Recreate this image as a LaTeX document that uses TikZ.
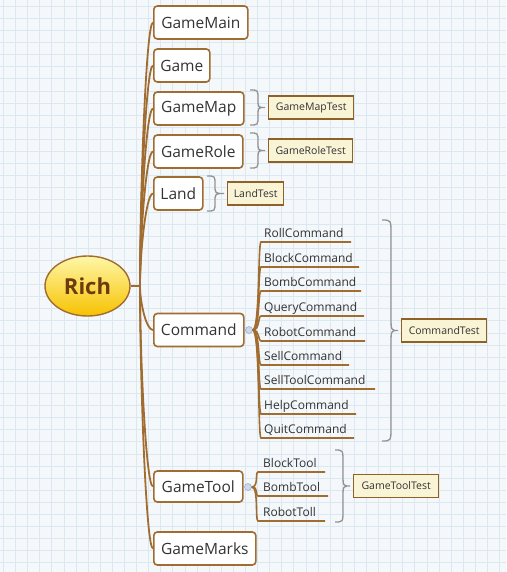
\documentclass[tikz,border=0pt]{standalone}
\usepackage{fontspec}
\setmainfont{Open Sans}
\usetikzlibrary{shapes.geometric,calc}
\definecolor{bg}{HTML}{F4F8FB}
\definecolor{gridc}{HTML}{DCE8F1}
\definecolor{brn}{HTML}{A06C30}
\definecolor{txt}{HTML}{333333}
\definecolor{testfill}{HTML}{FAF4D6}
\definecolor{testdraw}{HTML}{8E6126}
\definecolor{bracec}{HTML}{939393}
\definecolor{richtxt}{HTML}{6E3C0C}
\definecolor{richtop}{HTML}{FFF7A8}
\definecolor{richbot}{HTML}{F6C200}
\definecolor{hubfill}{HTML}{CBD9EE}
\definecolor{hubdraw}{HTML}{9DB2D2}
\newcommand\mainbranch[1]{\draw[branch] (hub) .. controls ($(hub)!0.35!(hub|-#1.west)$) and +(-7,0) .. (#1.west);}
\newcommand\subbranch[4]{\draw[subline] (#1.east) .. controls +(7,0) and +(-3,0) .. (#2,#3) -- (#4,#3);}
% xl, xc, xr, yt, yb, r
\newcommand\summbrace[6]{\draw[bracest] (#1,#4) .. controls (#2,#4) .. (#2,#4+#6) -- (#2,{(#4+#5)/2-#6}) .. controls (#2,{(#4+#5)/2}) .. (#3,{(#4+#5)/2}) .. controls (#2,{(#4+#5)/2}) .. (#2,{(#4+#5)/2+#6}) -- (#2,#5-#6) .. controls (#2,#5) .. (#1,#5);}
\begin{document}
\begin{tikzpicture}[x=1pt,y=-1pt,
  topic/.style={draw=brn, line width=1.6pt, fill=white, rounded corners=3.5pt, anchor=west, minimum height=33pt, inner sep=0pt, font=\fontsize{15.5}{16}\selectfont, text=txt},
  subtopic/.style={anchor=base west, inner sep=0pt, font=\fontsize{12}{13}\selectfont, text=txt},
  testbox/.style={draw=testdraw, line width=1.4pt, fill=testfill, anchor=west, minimum height=23pt, inner sep=0pt, font=\fontsize{10.5}{11}\selectfont, text=txt},
  branch/.style={draw=brn, line width=1.8pt},
  subline/.style={draw=brn, line width=1.6pt},
  bracest/.style={draw=bracec, line width=1.3pt},
  hubdot/.style={circle, fill=hubfill, draw=hubdraw, line width=0.6pt, minimum size=7pt, inner sep=0pt}]
\useasboundingbox (0,0) rectangle (506,572);
\fill[bg] (0,0) rectangle (506,572);
\foreach \i in {0,...,42} {
  \draw[gridc, line width=0.5pt] ({3.3+12.1*\i},0) -- ({3.3+12.1*\i},572);
}
\foreach \i in {0,...,47} {
  \draw[gridc, line width=0.5pt] (0,{6.1+12.1*\i}) -- (506,{6.1+12.1*\i});
}
% central topic
\node[ellipse, draw=brn, line width=1.4pt, top color=richtop, bottom color=richbot, minimum width=85pt, minimum height=60pt, inner sep=0pt, text=richtxt, font=\bfseries\fontsize{22}{24}\selectfont] (rich) at (87.5,286) {Rich};
\coordinate (hub) at (140,286);
\draw[branch] (rich.east) -- (hub);
% main topics
\node[topic, minimum width=94pt] (gamemain) at (153,22.5) {GameMain};
\node[topic, minimum width=56pt] (game) at (153,65.5) {Game};
\node[topic, minimum width=90pt] (gamemap) at (153,108.5) {GameMap};
\node[topic, minimum width=89pt] (gamerole) at (153,151.5) {GameRole};
\node[topic, minimum width=49pt] (land) at (153,193.5) {Land};
\node[topic, minimum width=90pt] (command) at (153,330) {Command};
\node[topic, minimum width=89pt, minimum height=31pt] (gametool) at (153,486.5) {GameTool};
\node[topic, minimum width=102pt] (gamemarks) at (153,548.5) {GameMarks};
\foreach \n in {gamemain,game,gamemap,gamerole,land,command,gametool,gamemarks} {\mainbranch{\n}}
% test boxes
\node[testbox, minimum width=85pt] (gamemaptest) at (268,107.5) {GameMapTest};
\node[testbox, minimum width=84pt] (gameroletest) at (268,150.5) {GameRoleTest};
\node[testbox, minimum width=56pt] (landtest) at (227,193.5) {LandTest};
\node[testbox, minimum width=85pt] (commandtest) at (401,330.5) {CommandTest};
\node[testbox, minimum width=85pt] (gametooltest) at (353,486) {GameToolTest};
\summbrace{250}{258}{265}{90}{125}{8.75}
\summbrace{250}{258}{265}{133}{168}{8.75}
\summbrace{207}{215}{224}{176}{211}{8.75}
\summbrace{382}{391}{398}{220}{441}{14}
\summbrace{335}{343}{350}{450}{522}{12}
% command subtopics
\node[hubdot] (cmdhub) at (249,330) {};
\draw[hubdraw, line width=0.8pt] (command.east) -- (cmdhub.west);
\node[subtopic] (roll) at (264,237) {RollCommand};
\node[subtopic] (block) at (264,262) {BlockCommand};
\node[subtopic] (bomb) at (264,286) {BombCommand};
\node[subtopic] (query) at (264,311) {QueryCommand};
\node[subtopic] (robot) at (264,336) {RobotCommand};
\node[subtopic] (sell) at (264,360) {SellCommand};
\node[subtopic] (selltool) at (264,384) {SellToolCommand};
\node[subtopic] (help) at (264,409) {HelpCommand};
\node[subtopic] (quit) at (264,433) {QuitCommand};
\subbranch{cmdhub}{261}{242}{351}
\subbranch{cmdhub}{261}{267}{359}
\subbranch{cmdhub}{261}{291}{361}
\subbranch{cmdhub}{261}{316}{364}
\subbranch{cmdhub}{261}{341}{365}
\subbranch{cmdhub}{261}{365}{349}
\subbranch{cmdhub}{261}{389}{375}
\subbranch{cmdhub}{261}{414}{356}
\subbranch{cmdhub}{261}{438}{354}
% gametool subtopics
\node[hubdot] (toolhub) at (248,487) {};
\draw[hubdraw, line width=0.8pt] (gametool.east) -- (toolhub.west);
\node[subtopic] (blocktool) at (263,467) {BlockTool};
\node[subtopic] (bombtool) at (263,491) {BombTool};
\node[subtopic] (robottoll) at (263,516) {RobotToll};
\subbranch{toolhub}{258}{472}{325}
\subbranch{toolhub}{258}{496}{328}
\subbranch{toolhub}{258}{521}{325}
\end{tikzpicture}
\end{document}
